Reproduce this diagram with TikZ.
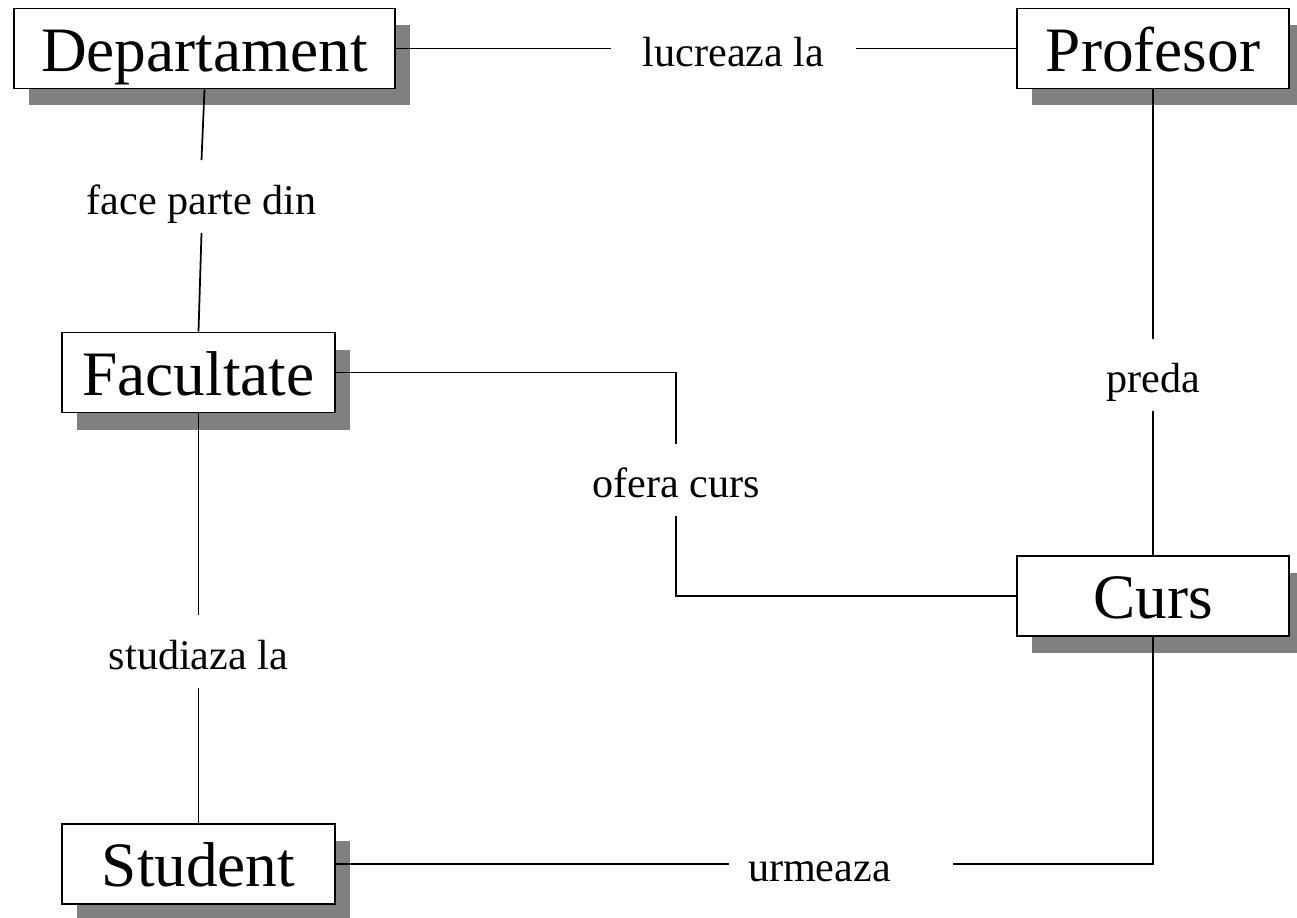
\documentclass[tikz,border=0pt]{standalone}
\usepackage{fontspec}
\setmainfont{Liberation Serif}
\usepackage{tikz}
\usetikzlibrary{shadows, positioning, calc}

\begin{document}
\begin{tikzpicture}[
  entity/.style={draw=black, fill=white, line width=1.1pt,
                 minimum width=5.45cm, minimum height=1.6cm,
                 inner sep=0pt, text height=26pt, text depth=0pt,
                 font=\fontsize{36}{40}\selectfont,
                 drop shadow={shadow xshift=0.3cm, shadow yshift=-0.34cm,
                              fill=black!50, opacity=1}},
  rel/.style={inner xsep=0.62cm, inner ysep=0.37cm,
              text height=20pt, text depth=0pt,
              font=\fontsize{24}{28}\selectfont},
  link/.style={draw=black, line width=1pt}
]
  \useasboundingbox[fill=white] (0,0) rectangle (25.94,-18.36);

  % Entities
  \node[entity, minimum width=7.62cm] (dep) at (4.09, -0.97) {Departament};
  \node[entity] (prof) at (23.06, -0.97)  {Profesor};
  \node[entity] (fac)  at (3.97, -7.45)   {Facultate};
  \node[entity] (curs) at (23.06, -11.92) {Curs};
  \node[entity] (stud) at (3.97, -17.28)  {Student};

  % Relationships
  \node[rel] (luc)   at (14.67, -0.97)  {lucreaza la};
  \node[rel] (face)  at (4.03, -3.93)   {face parte din};
  \node[rel] (preda) at (23.06, -7.5)   {preda};
  \node[rel] (ofera) at (13.52, -9.6)   {ofera curs};
  \node[rel] (studl) at (3.97, -13.03)  {studiaza la};
  \node[rel, inner xsep=0.38cm, text width=3.72cm, align=left]
    (urm) at (16.82, -17.28) {urmeaza};

  % Links
  \draw[link] (dep.east) -- (luc.west);
  \draw[link] (luc.east) -- (prof.west);
  \draw[link] (dep.south) -- (face.north);
  \draw[link] (face.south) -- (fac.north);
  \draw[link] (prof.south) -- (preda.north);
  \draw[link] (preda.south) -- (curs.north);
  \draw[link] (fac.east) -| (ofera.north);
  \draw[link] (ofera.south) |- (curs.west);
  \draw[link] (fac.south) -- (studl.north);
  \draw[link] (studl.south) -- (stud.north);
  \draw[link] (stud.east) -- (urm.west);
  \draw[link] (urm.east) -| (curs.south);

\end{tikzpicture}
\end{document}
